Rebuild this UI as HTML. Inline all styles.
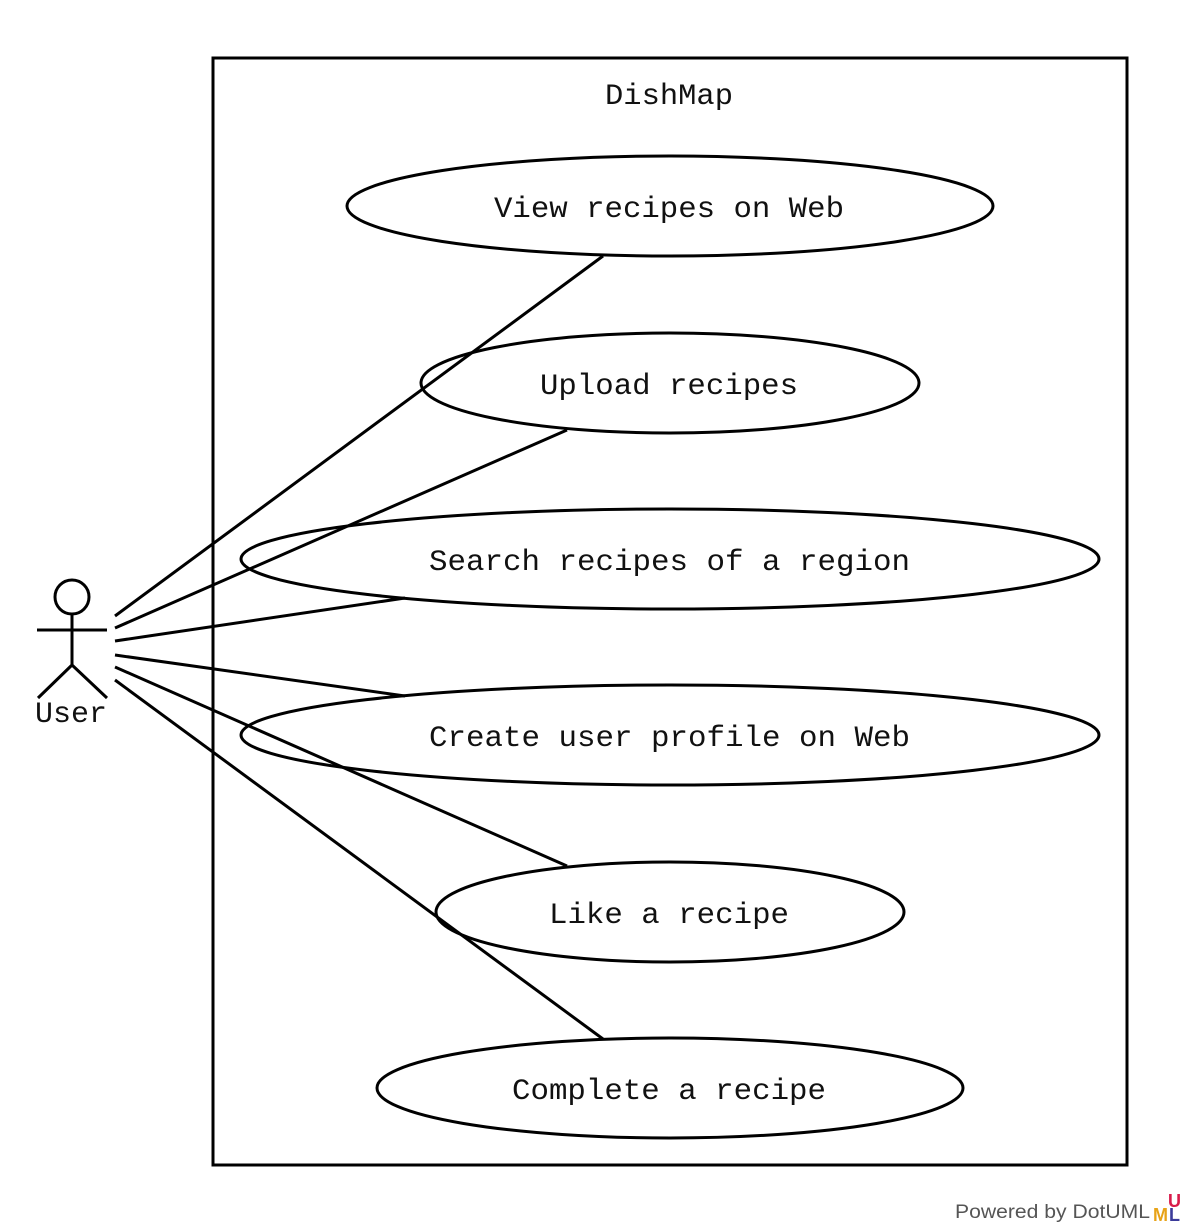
<!DOCTYPE html>
<html><head><meta charset="utf-8"><style>
html,body{margin:0;padding:0;background:#fff;}
svg{display:block;}
text{font-family:"Liberation Mono","Noto Sans CJK SC",monospace;font-size:30px;fill:#111;}
</style></head><body>
<svg width="1185" height="1224" viewBox="0 0 1185 1224" xmlns="http://www.w3.org/2000/svg">
<rect x="213" y="58" width="914" height="1107" fill="none" stroke="#000" stroke-width="3"/>
<text x="605" y="104" textLength="128" lengthAdjust="spacingAndGlyphs">DishMap</text>
<g fill="none" stroke="#000" stroke-width="3">
<ellipse cx="670" cy="206" rx="323" ry="50"/>
<ellipse cx="670" cy="383" rx="249" ry="50"/>
<ellipse cx="670" cy="559" rx="429" ry="50"/>
<ellipse cx="670" cy="735" rx="429" ry="50"/>
<ellipse cx="670" cy="912" rx="234" ry="50"/>
<ellipse cx="670" cy="1088" rx="293" ry="50"/>
<line x1="115" y1="616" x2="603" y2="256"/>
<line x1="115" y1="628" x2="567" y2="430"/>
<line x1="115" y1="641" x2="405" y2="598"/>
<line x1="115" y1="655" x2="405" y2="696"/>
<line x1="115" y1="667" x2="567" y2="866"/>
<line x1="115" y1="680" x2="603" y2="1039"/>
<circle cx="72" cy="597" r="17"/>
<line x1="37" y1="630" x2="107" y2="630"/>
<line x1="72" y1="614" x2="72" y2="665"/>
<line x1="72" y1="665" x2="38" y2="698"/>
<line x1="72" y1="665" x2="107" y2="698"/>
</g>
<text x="494" y="217" textLength="350" lengthAdjust="spacingAndGlyphs">View recipes on Web</text>
<text x="540" y="394" textLength="258" lengthAdjust="spacingAndGlyphs">Upload recipes</text>
<text x="429" y="570" textLength="481" lengthAdjust="spacingAndGlyphs">Search recipes of a region</text>
<text x="429" y="746" textLength="481" lengthAdjust="spacingAndGlyphs">Create user profile on Web</text>
<text x="549" y="923" textLength="240" lengthAdjust="spacingAndGlyphs">Like a recipe</text>
<text x="512" y="1099" textLength="314" lengthAdjust="spacingAndGlyphs">Complete a recipe</text>
<text x="35" y="722" textLength="72" lengthAdjust="spacingAndGlyphs">User</text>
<text x="955" y="1218" style="font-family:'Liberation Sans',sans-serif;font-size:19px;fill:#555" textLength="195" lengthAdjust="spacingAndGlyphs">Powered by DotUML</text>
<text x="1153" y="1221" style="font-family:'Liberation Sans',sans-serif;font-size:18px;font-weight:bold;fill:#e8a317">M</text>
<text x="1168" y="1207" style="font-family:'Liberation Sans',sans-serif;font-size:18px;font-weight:bold;fill:#d81b4a">U</text>
<text x="1169" y="1221" style="font-family:'Liberation Sans',sans-serif;font-size:18px;font-weight:bold;fill:#3b3b9a">L</text>
</svg>
</body></html>
